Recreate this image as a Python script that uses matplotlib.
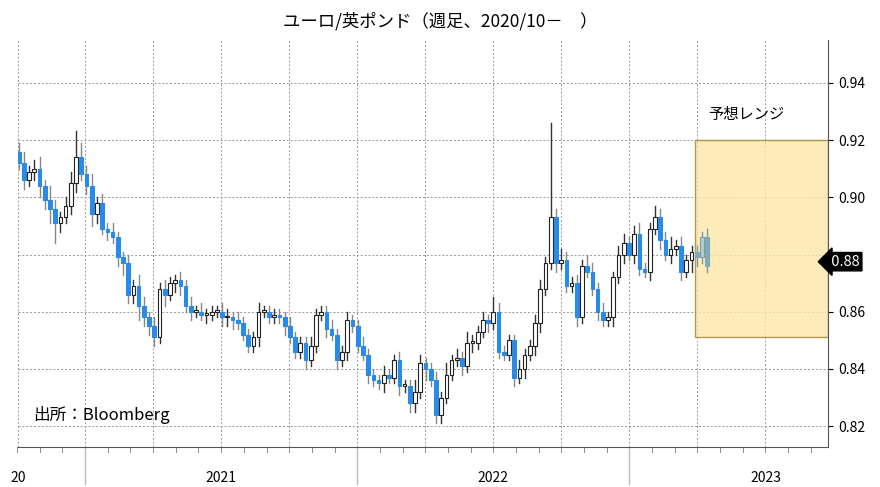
import matplotlib
matplotlib.use("Agg")
import matplotlib.pyplot as plt
from matplotlib.patches import Rectangle
import numpy as np

plt.rcParams["font.family"] = ["Noto Sans CJK JP", "DejaVu Sans"]

closes = [.912,.906,.909,.910,.904,.899,.896,.891,.893,.897,
          .905,.914,.908,.904,.894,.898,.889,.888,.886,.879,
          .877,.866,.869,.862,.858,.855,.851,.868,.866,.870,
          .871,.869,.862,.860,.860,.859,.859,.860,.860,.858,
          .858,.857,.856,.852,.848,.851,.860,.860,.858,.859,
          .858,.855,.851,.846,.849,.843,.848,.859,.860,.854,
          .852,.843,.846,.857,.855,.848,.845,.838,.836,.835,
          .838,.837,.843,.834,.834,.828,.832,.842,.840,.836,
          .824,.830,.838,.843,.844,.841,.849,.849,.853,.857,
          .856,.860,.846,.845,.850,.837,.840,.845,.848,.856,
          .868,.877,.893,.877,.878,.869,.870,.858,.876,.874,
          .868,.860,.857,.858,.872,.880,.884,.880,.887,.875,
          .874,.889,.893,.885,.880,.882,.883,.874,.878,.881,
          .879,.886,.876]
first_open = .916
hi_ext = [3,4,2,3,4,2,5,3,2,3, 4,9,5,3,4,2,3,2,3,2,
          2,3,2,4,3,2,3,2,3,2, 2,3,2,3,2,3,2,2,2,3,
          3,2,3,2,2,2,3,2,2,2, 2,2,3,2,2,2,3,2,2,2,
          3,2,2,3,2,2,3,2,2,2, 3,2,2,3,2,2,4,3,2,2,
          3,2,4,2,3,2,4,3,2,3, 2,5,3,2,2,2,3,2,2,3,
          3,2,33,3,4,3,2,3,2,4, 3,2,3,2,2,3,3,2,3,4,
          2,2,4,3,3,4,2,3,2,2, 2,2,3]
lo_ext = [2,3,2,3,4,3,5,7,3,2, 3,3,2,3,4,3,2,3,2,3,
          4,3,3,5,3,3,3,2,4,2, 3,3,2,3,2,2,3,2,2,3,
          3,3,2,2,2,2,3,2,2,2, 2,3,2,2,2,3,2,2,2,3,
          2,3,2,3,2,2,2,3,2,2, 3,2,2,3,2,3,3,2,4,2,
          3,3,2,2,2,3,2,3,2,2, 3,2,2,2,2,3,2,3,2,3,
          3,2,2,3,2,2,2,3,2,2, 2,3,2,2,3,2,3,2,3,2,
          2,3,2,3,2,3,2,3,2,4, 3,2,2]

yticks = [0.82, 0.84, 0.86, 0.88, 0.90, 0.92, 0.94]
year_labels = ["20", "2021", "2022", "2023"]
range_lo, range_hi = 0.851, 0.920
last_label = 0.88

fig = plt.figure(figsize=(8.8, 4.87), dpi=100)
ax = fig.add_axes([0.02, 0.082, 0.921, 0.836])
x0 = 2020.752
wk = 1 / 52.18
xs = x0 + 0.004 + np.arange(len(closes)) * wk
opens = [first_open] + closes[:-1]
box_start = 2023.24
w = 0.0135
for x, o, c, he, le in zip(xs, opens, closes, hi_ext, lo_ext):
    h = max(o, c) + he / 1000
    l = min(o, c) - le / 1000
    faded = x > box_start
    up = c >= o
    wickc = "#7d9aa5" if faded else ("#333333" if up else "#888888")
    ax.plot([x, x], [l, h], color=wickc, lw=1, zorder=3)
    if faded:
        fc, ec = ("#b5ccd4", "#7d9aa5") if up else ("#7faab8", "#7faab8")
    else:
        fc, ec = ("white", "#222222") if up else ("#2a8be6", "#2a8be6")
    ax.add_patch(Rectangle((x - w / 2, min(o, c)), w, max(abs(c - o), 0.0006),
                           facecolor=fc, edgecolor=ec, lw=0.8, zorder=4))

ax.add_patch(Rectangle((box_start, range_lo), 2023.73 - box_start, range_hi - range_lo,
                       facecolor="#fde7a8", edgecolor="#9c8432", lw=1, alpha=0.8, zorder=2))
ax.text(2023.43, 0.929, "予想レンジ", fontsize=11, ha="center", va="center")

ax.set_xlim(x0, 2023.73)
ax.set_ylim(0.8127, 0.955)
ax.yaxis.tick_right()
ax.set_yticks(yticks)
ax.set_yticklabels(["" if abs(v - last_label) < 1e-9 else f"{v:.2f}" for v in yticks],
                   fontsize=10)
ax.set_xticks(np.arange(2021.0, 2023.75, 0.25))
ax.set_xticklabels([])
ax.tick_params(axis="x", length=0)
ax.grid(True, color="#999999", ls=(0, (2, 2)), lw=0.7)
ax.axvline(x0 + 0.001, color="#999999", ls=(0, (2, 2)), lw=0.7)
for s in ["top", "left"]:
    ax.spines[s].set_visible(False)
ax.spines["right"].set_color("#555555")
ax.spines["bottom"].set_color("#555555")
for m in np.arange(2020.75, 2023.73, 1 / 12):
    ax.plot([m, m], [0, -0.012], transform=ax.get_xaxis_transform(),
            color="#888888", lw=0.7, clip_on=False)
for yr in [2021, 2022, 2023]:
    ax.plot([yr, yr], [0, -0.09], transform=ax.get_xaxis_transform(),
            color="#bbbbbb", lw=1, clip_on=False)
for lab, xc in zip(year_labels, [2020.725, 2021.5, 2022.5, 2023.5]):
    ax.text(xc, -0.075, lab, transform=ax.get_xaxis_transform(),
            ha="left" if lab == "20" else "center", va="center", fontsize=10)
ax.text(1.0, last_label - 0.0025, " 0.88", transform=ax.get_yaxis_transform(),
        fontsize=10.5, color="white", va="center", ha="left",
        bbox=dict(boxstyle="larrow,pad=0.15", fc="black", ec="black"), zorder=10)
ax.text(2020.81, 0.824, "出所：Bloomberg", fontsize=12, va="center")
fig.suptitle("ユーロ/英ポンド（週足、2020/10－　）", fontsize=12.5, y=0.975)
fig.savefig("out.png", dpi=100)
